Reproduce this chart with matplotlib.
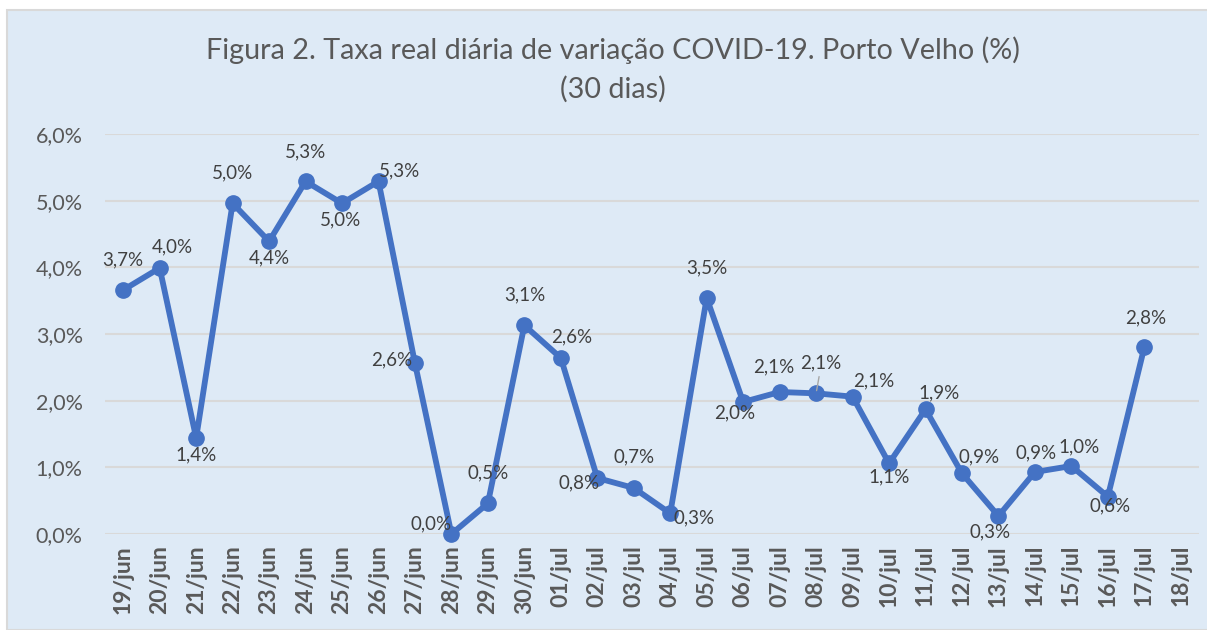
import matplotlib.pyplot as plt
from matplotlib.patches import Rectangle

plt.rcParams['font.family'] = ['Lato', 'DejaVu Sans']

# categories (30 days), last one has no value
dates = ["19/jun", "20/jun", "21/jun", "22/jun", "23/jun", "24/jun", "25/jun",
         "26/jun", "27/jun", "28/jun", "29/jun", "30/jun", "01/jul", "02/jul",
         "03/jul", "04/jul", "05/jul", "06/jul", "07/jul", "08/jul", "09/jul",
         "10/jul", "11/jul", "12/jul", "13/jul", "14/jul", "15/jul", "16/jul",
         "17/jul", "18/jul"]
taxa = [3.66, 3.99, 1.44, 4.96, 4.39, 5.29, 4.96, 5.29, 2.56, 0.0, 0.46, 3.13,
        2.64, 0.84, 0.69, 0.31, 3.54, 1.98, 2.13, 2.11, 2.06, 1.06, 1.87, 0.91,
        0.27, 0.93, 1.02, 0.56, 2.80]
yticks = [0, 1, 2, 3, 4, 5, 6]

# label offsets (px) relative to each point, as Excel placed them
label_dx = [0, 13, 0, 0, 0, 0, -2, 21, -23, -20, 0, 0, 11, -18, 0, 24, 0,
            -8, -6, 5, 21, 0, 14, 17, -8, 1, 8, 2, 1]
label_dy = [30, 21, -17, 30, -17, 29, -17, 10, 3, 10, 30, 30, 21, -5, 31, -5,
            30, -11, 25, 30, 16, -14, 16, 16, -16, 19, 19, -9, 29]

blue = "#4472C4"
bg = "#DEEAF6"
txt = "#595959"

fig = plt.figure(figsize=(12.07, 6.3), dpi=100)
fig.patch.set_facecolor("white")
fig.patches.append(Rectangle((7 / 1207, 0), 1.0, 1 - 10 / 630, transform=fig.transFigure,
                             facecolor=bg, edgecolor="#D9D9D9", linewidth=1.5, zorder=-1))

ax = fig.add_axes([105 / 1207, 1 - 534 / 630, (1199 - 105) / 1207, 400 / 630])
ax.set_facecolor(bg)
ax.patch.set_alpha(0)

x = list(range(len(taxa)))
ax.plot(x, taxa, color=blue, linewidth=4.2, marker="o", markersize=11,
        solid_capstyle="round", solid_joinstyle="round", zorder=3, clip_on=False)

for i, v in enumerate(taxa):
    lbl = f"{v:.1f}%".replace(".", ",")
    ax.annotate(lbl, (i, v), xytext=(label_dx[i] * 0.72, label_dy[i] * 0.72),
                textcoords="offset points", ha="center", va="center",
                fontsize=13.5, color="#404040", zorder=4)

# leader line for 08/jul
ax.annotate("", (19, taxa[19]), xytext=(2.5, 14), textcoords="offset points",
            arrowprops=dict(arrowstyle="-", color="#A6A6A6", lw=1))

ax.set_xlim(-0.5, len(dates) - 0.5)
ax.set_ylim(0, 6)
ax.set_xticks(range(len(dates)))
ax.set_xticklabels(dates, rotation=90, fontsize=16.5, fontweight="bold", color=txt)
ax.set_yticks(yticks)
ax.set_yticklabels([f"{t:.1f}%".replace(".", ",") for t in yticks], fontsize=15.5, color=txt)
ax.tick_params(axis="both", length=0)
ax.tick_params(axis="x", pad=8)
ax.tick_params(axis="y", pad=16)
ax.grid(axis="y", color="#D9D9D9", linewidth=1.5)
ax.set_axisbelow(True)
for s in ax.spines.values():
    s.set_visible(False)

fig.text(613 / 1207, 1 - 50 / 630, "Figura 2. Taxa real diária de variação COVID-19. Porto Velho (%)",
         ha="center", va="center", fontsize=20.7, color=txt)
fig.text(613 / 1207, 1 - 89 / 630, "(30 dias)", ha="center", va="center",
         fontsize=20.7, color=txt)

fig.savefig("out.png", dpi=100, facecolor=fig.get_facecolor())
